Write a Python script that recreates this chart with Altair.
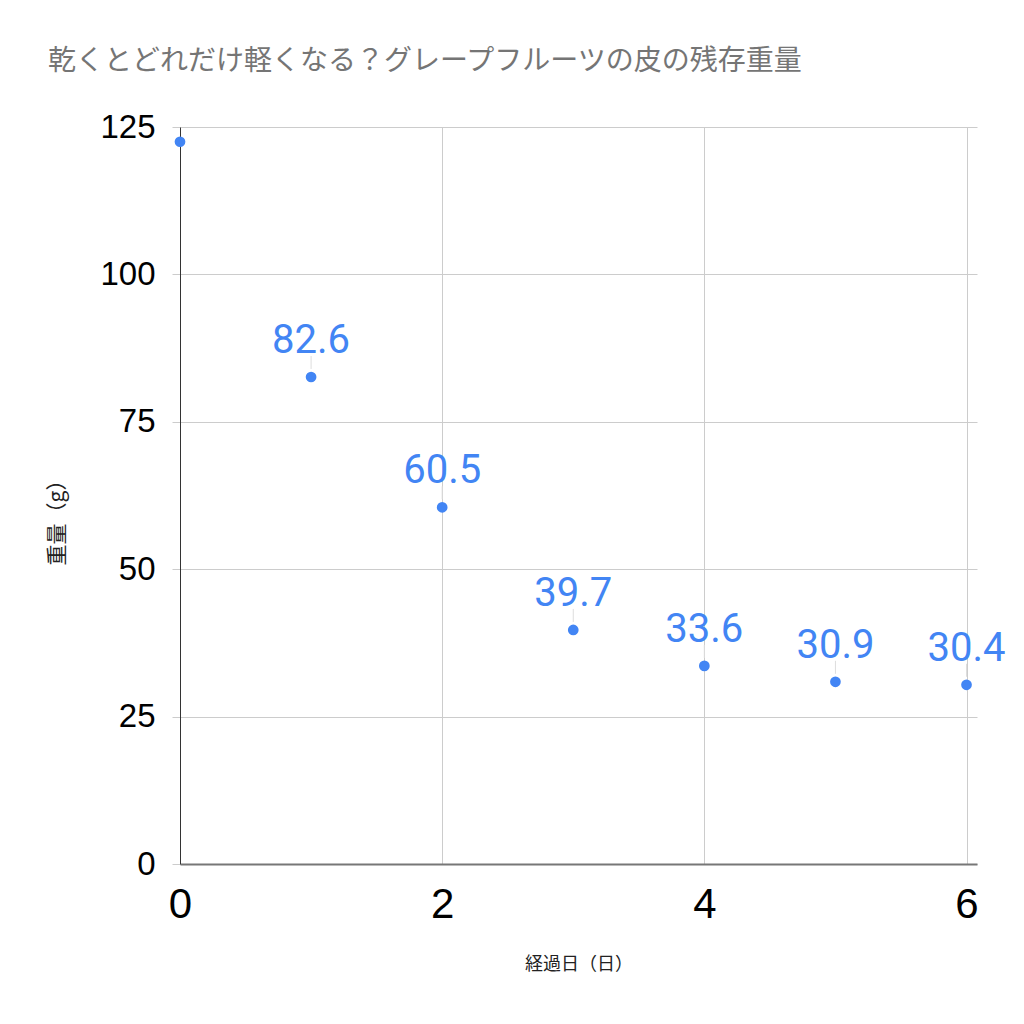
import altair as alt
import pandas as pd

days = [0, 1, 2, 3, 4, 5, 6]
weights = [122.5, 82.6, 60.5, 39.7, 33.6, 30.9, 30.4]
labels = ["", "82.6", "60.5", "39.7", "33.6", "30.9", "30.4"]
x_ticks = [0, 2, 4, 6]
y_ticks = [0, 25, 50, 75, 100, 125]

df = pd.DataFrame({"day": days, "weight": weights, "label": labels})

BLUE = "#4285F4"

x = alt.X("day:Q", title="経過日（日）",
          scale=alt.Scale(domain=[0, 6.08], nice=False, zero=False),
          axis=alt.Axis(values=x_ticks, format="d", labelFontSize=42, labelFont="Liberation Sans",
                        labelColor="#000000", labelPadding=20, ticks=False,
                        domainColor="#777777", domainWidth=2,
                        gridColor="#cccccc", titleFont="Noto Sans CJK JP",
                        titleFontSize=18, titleFontWeight="normal", titleColor="#222222",
                        titlePadding=30, labelFlush=False))
y = alt.Y("weight:Q", title="重量（g）",
          scale=alt.Scale(domain=[0, 125], nice=False),
          axis=alt.Axis(values=y_ticks, labelFontSize=33, labelFont="Liberation Sans",
                        labelColor="#000000", labelPadding=17, tickSize=8,
                        tickColor="#cccccc", domainColor="#333333", domainWidth=1,
                        gridColor="#cccccc", titleFont="Noto Sans CJK JP",
                        titleFontSize=21, titleFontWeight="normal", titleColor="#222222",
                        titlePadding=32, titleY=390))

base = alt.Chart(df)

points = base.mark_circle(size=115, color=BLUE, opacity=1).encode(x=x, y=y)

leaders = base.transform_filter("datum.label != ''").mark_rule(
    color="#dddddd", strokeWidth=1, yOffset=-8, y2Offset=-21
).encode(x="day:Q", y="weight:Q", y2="weight:Q")

texts = base.mark_text(
    font="Roboto", fontSize=40, color=BLUE, baseline="alphabetic", dy=-24
).encode(x="day:Q", y="weight:Q", text="label:N")

chart = alt.layer(leaders, points, texts).properties(
    width=797, height=737,
    title=alt.TitleParams(
        "乾くとどれだけ軽くなる？グレープフルーツの皮の残存重量",
        anchor="start", frame="group", dx=-132, offset=10,
        font="Noto Sans CJK JP", fontSize=28, fontWeight="normal", color="#757575"
    ),
    autosize=alt.AutoSizeParams(type="none"),
    padding={"left": 172, "top": 119, "right": 30, "bottom": 150},
).configure_view(stroke=None)

chart.save("out.html", embed_options={"renderer": "svg", "actions": False})
